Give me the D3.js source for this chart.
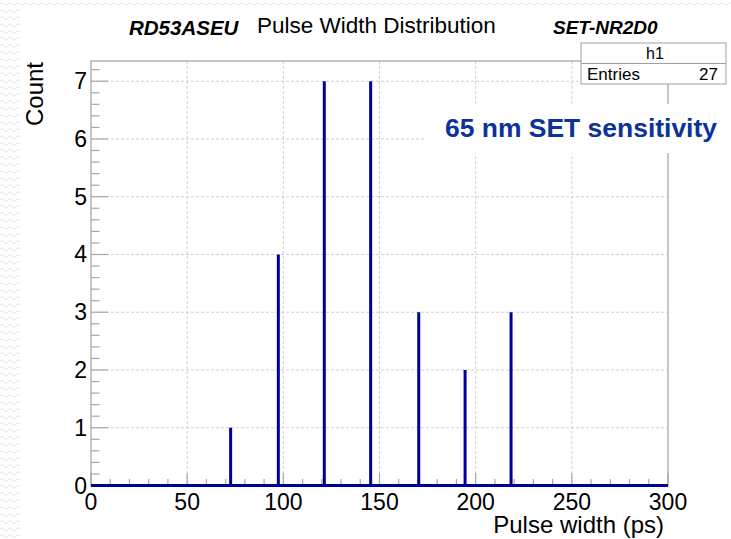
<!DOCTYPE html>
<html>
<head>
<meta charset="utf-8">
<script src="https://cdn.jsdelivr.net/npm/d3@7"></script>
<style>
  body { margin: 0; background: #fff; }
  svg text { font-family: "Liberation Sans", Arial, sans-serif; }
</style>
</head>
<body>
<svg id="chart" width="731" height="539"></svg>
<script>
// pulse widths (ps) and counts
var widths = [72.6, 97.4, 121.3, 145.4, 170.4, 194.5, 218.4],
    counts = [1, 4, 7, 7, 3, 2, 3],
    xTicks = [0, 50, 100, 150, 200, 250, 300],
    yTicks = [0, 1, 2, 3, 4, 5, 6, 7];

var svg = d3.select("#chart"),
    pL = 91, pR = 668, pT = 61, pB = 485.5;

var x = d3.scaleLinear().domain([0, 300]).range([pL, pR]),
    y = d3.scaleLinear().domain([0, 7.35]).range([pB, pT]);

// slide background texture on the left / top edges
var defs = svg.append("defs");
var pat = defs.append("pattern")
  .attr("id", "wave")
  .attr("width", 8).attr("height", 7)
  .attr("patternUnits", "userSpaceOnUse");
pat.append("path")
  .attr("d", "M0,4 Q2,1 4,4 T8,4")
  .attr("fill", "none")
  .attr("stroke", "#e4e4e4")
  .attr("stroke-width", 1);
svg.append("rect").attr("x", 0).attr("y", 0).attr("width", 20).attr("height", 539)
  .attr("fill", "url(#wave)");
svg.append("rect").attr("x", 20).attr("y", 0).attr("width", 711).attr("height", 6)
  .attr("fill", "url(#wave)");

// grid
var g = svg.append("g");
g.selectAll("line.gx").data(xTicks.slice(1, -1)).enter().append("line")
  .attr("x1", x).attr("x2", x).attr("y1", pT).attr("y2", pB)
  .attr("stroke", "#cfcfcf").attr("stroke-dasharray", "3,2");
g.selectAll("line.gy").data(yTicks.slice(1)).enter().append("line")
  .attr("x1", pL).attr("x2", pR).attr("y1", y).attr("y2", y)
  .attr("stroke", "#cfcfcf").attr("stroke-dasharray", "3,2");

// frame
svg.append("rect")
  .attr("x", pL).attr("y", pT)
  .attr("width", pR - pL).attr("height", pB - pT)
  .attr("fill", "none").attr("stroke", "#b4b4b4").attr("stroke-width", 1.5);

// y ticks (inward), major + minor
var yMinor = d3.range(0, 7.35, 0.2);
svg.selectAll("line.ym").data(yMinor).enter().append("line")
  .attr("x1", pL).attr("y1", y).attr("y2", y)
  .attr("x2", function(d) { return Math.abs(d - Math.round(d)) < 1e-6 ? pL + 17 : pL + 8.5; })
  .attr("stroke", "#a8a8a8").attr("stroke-width", 1.2);

// x ticks (inward), major + minor
var xMinor = d3.range(0, 301, 10);
svg.selectAll("line.xm").data(xMinor).enter().append("line")
  .attr("x1", x).attr("x2", x).attr("y1", pB)
  .attr("y2", function(d) { return d % 50 === 0 ? pB - 12.5 : pB - 6.5; })
  .attr("stroke", "#a8a8a8").attr("stroke-width", 1.2);

// histogram: baseline with spikes
var pts = [[0, 0]];
widths.forEach(function(w, i) {
  pts.push([w, 0], [w, counts[i]], [w, 0]);
});
pts.push([300, 0]);
svg.append("path")
  .datum(pts)
  .attr("d", d3.line().x(function(d) { return x(d[0]); }).y(function(d) { return y(d[1]); }))
  .attr("fill", "none")
  .attr("stroke", "#00009a")
  .attr("stroke-width", 3)
  .attr("stroke-linejoin", "miter");

// tick labels
svg.selectAll("text.yl").data(yTicks).enter().append("text")
  .attr("x", 87).attr("y", function(d) { return y(d) + 8; })
  .attr("text-anchor", "end").attr("font-size", 23)
  .text(function(d) { return d; });
svg.selectAll("text.xl").data(xTicks).enter().append("text")
  .attr("x", x).attr("y", 510)
  .attr("text-anchor", "middle").attr("font-size", 23)
  .text(function(d) { return d; });

// axis titles
svg.append("text")
  .attr("x", 664).attr("y", 533)
  .attr("text-anchor", "end").attr("font-size", 24)
  .text("Pulse width (ps)");
svg.append("text")
  .attr("transform", "translate(43,62) rotate(-90)")
  .attr("text-anchor", "end").attr("font-size", 24)
  .text("Count");

// titles
svg.append("text")
  .attr("x", 129).attr("y", 35)
  .attr("font-size", 20.5).attr("font-weight", "bold").attr("font-style", "italic")
  .text("RD53ASEU");
svg.append("text")
  .attr("x", 257).attr("y", 33)
  .attr("font-size", 22.5)
  .text("Pulse Width Distribution");
svg.append("text")
  .attr("x", 553).attr("y", 34)
  .attr("font-size", 19).attr("font-weight", "bold").attr("font-style", "italic")
  .text("SET-NR2D0");

// stats box
var sb = svg.append("g");
sb.append("rect").attr("x", 581).attr("y", 43).attr("width", 145).attr("height", 41)
  .attr("fill", "#fff").attr("stroke", "#a0a0a0").attr("stroke-width", 1);
sb.append("line").attr("x1", 581).attr("x2", 726).attr("y1", 63.5).attr("y2", 63.5)
  .attr("stroke", "#a0a0a0");
sb.append("text").attr("x", 655).attr("y", 59).attr("text-anchor", "middle")
  .attr("font-size", 16).text("h1");
sb.append("text").attr("x", 587).attr("y", 80)
  .attr("font-size", 17).text("Entries");
sb.append("text").attr("x", 718).attr("y", 80).attr("text-anchor", "end")
  .attr("font-size", 17).text(d3.sum(counts));

// label with white background
svg.append("rect").attr("x", 425).attr("y", 104).attr("width", 306).attr("height", 49)
  .attr("fill", "#fff");
svg.append("text")
  .attr("x", 445).attr("y", 137)
  .attr("font-size", 25).attr("font-weight", "bold").attr("fill", "#0b3399")
  .attr("textLength", 272).attr("lengthAdjust", "spacingAndGlyphs")
  .text("65 nm SET sensitivity");
</script>
</body>
</html>
